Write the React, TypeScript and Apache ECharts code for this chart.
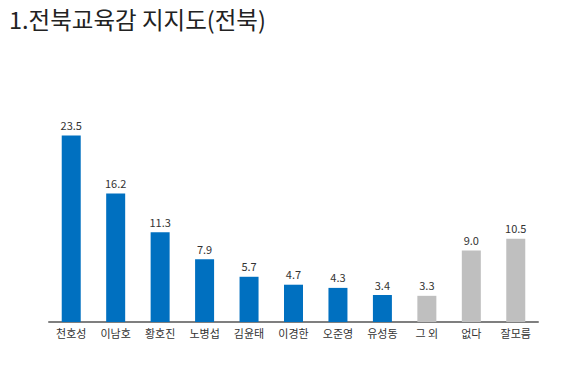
import React, { useEffect, useRef } from "react";
import * as echarts from "echarts";

const titleText = "1.전북교육감 지지도(전북)";
const categories = ["천호성", "이남호", "황호진", "노병섭", "김윤태", "이경한", "오준영", "유성동", "그 외", "없다", "잘모름"];
const values = [23.5, 16.2, 11.3, 7.9, 5.7, 4.7, 4.3, 3.4, 3.3, 9.0, 10.5];
const isCandidate = [true, true, true, true, true, true, true, true, false, false, false];

const BLUE = "#0070C0";
const GRAY = "#BFBFBF";
const FONT = "'Noto Sans CJK KR', 'Noto Sans', sans-serif";

export default function App() {
  const ref = useRef<HTMLDivElement>(null);
  useEffect(() => {
    if (!ref.current) return;
    const chart = echarts.init(ref.current, null, { renderer: "svg" });
    chart.setOption({
      animation: false,
      backgroundColor: "#ffffff",
      title: {
        text: titleText,
        left: 4,
        top: 2,
        textStyle: { fontFamily: FONT, fontSize: 23.5, fontWeight: "normal", color: "#222" },
      },
      grid: { left: 49, right: 36, top: 84, bottom: 62, containLabel: false },
      xAxis: {
        type: "category",
        data: categories,
        axisLine: { lineStyle: { color: "#7f7f7f", width: 2 } },
        axisTick: { show: false },
        axisLabel: { fontFamily: FONT, fontSize: 11, color: "#333", margin: 5, interval: 0 },
      },
      yAxis: {
        type: "value",
        min: 0,
        max: 30,
        show: false,
        splitLine: { show: false },
      },
      series: [
        {
          type: "bar",
          barWidth: 19,
          data: values.map((v, i) => ({ value: v, itemStyle: { color: isCandidate[i] ? BLUE : GRAY } })),
          label: {
            show: true,
            position: "top",
            distance: 5,
            fontFamily: FONT,
            fontSize: 11,
            color: "#333",
            formatter: (p: any) => Number(p.value).toFixed(1),
          },
        },
      ],
    });
    return () => chart.dispose();
  }, []);
  return <div ref={ref} style={{ width: 574, height: 384, position: "absolute", left: 0, top: 0 }} />;
}
